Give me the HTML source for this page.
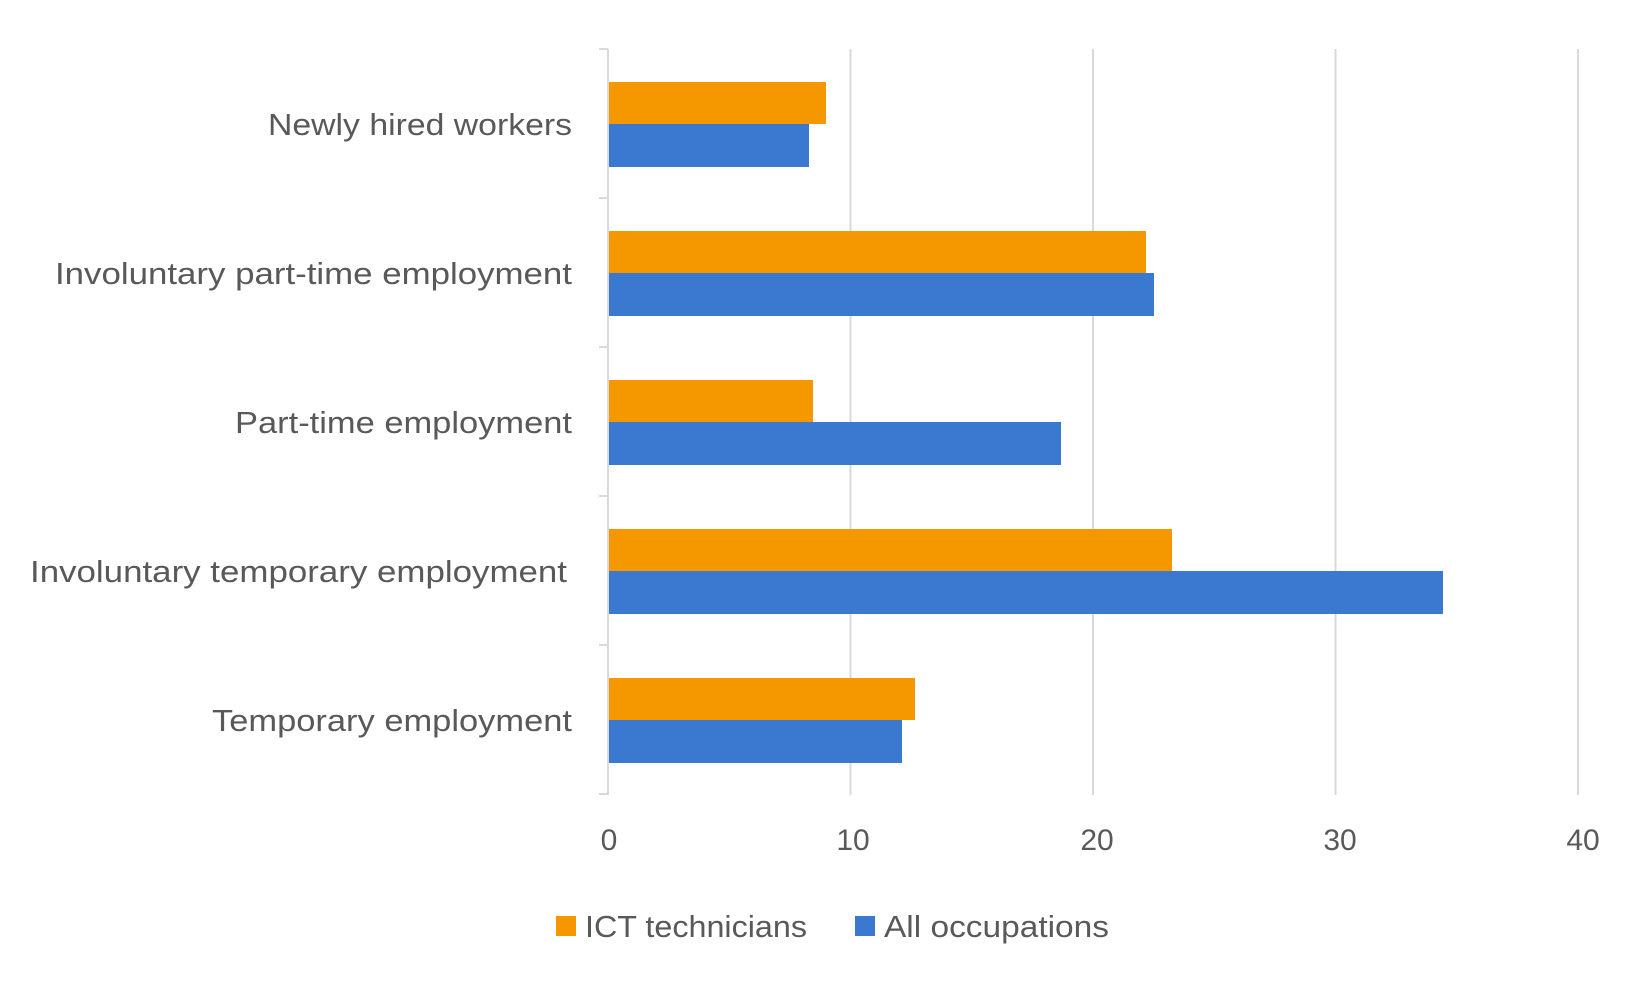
<!DOCTYPE html>
<html><head><meta charset="utf-8"><style>
html,body{margin:0;padding:0;background:#fff;}
svg text{font-family:"Liberation Sans",sans-serif;fill:#595959;}
</style></head><body>
<svg width="1650" height="990" xmlns="http://www.w3.org/2000/svg">
<g stroke="#d9d9d9" stroke-width="2">
<line x1="850.5" y1="49" x2="850.5" y2="795"/>
<line x1="1093" y1="49" x2="1093" y2="795"/>
<line x1="1335.5" y1="49" x2="1335.5" y2="795"/>
<line x1="1578" y1="49" x2="1578" y2="795"/>
<line x1="608" y1="49" x2="608" y2="795"/>
<line x1="599" y1="49" x2="608" y2="49"/>
<line x1="599" y1="198" x2="608" y2="198"/>
<line x1="599" y1="347" x2="608" y2="347"/>
<line x1="599" y1="496" x2="608" y2="496"/>
<line x1="599" y1="645" x2="608" y2="645"/>
<line x1="599" y1="794" x2="608" y2="794"/>
</g>
<g>
<rect x="609" y="82" width="217" height="42" fill="#f59800"/>
<rect x="609" y="124" width="200" height="43" fill="#3b78cf"/>
<rect x="609" y="231" width="537" height="42" fill="#f59800"/>
<rect x="609" y="273" width="545" height="43" fill="#3b78cf"/>
<rect x="609" y="380" width="204" height="42" fill="#f59800"/>
<rect x="609" y="422" width="452" height="43" fill="#3b78cf"/>
<rect x="609" y="529" width="563" height="42" fill="#f59800"/>
<rect x="609" y="571" width="834" height="43" fill="#3b78cf"/>
<rect x="609" y="678" width="306" height="42" fill="#f59800"/>
<rect x="609" y="720" width="293" height="43" fill="#3b78cf"/>
</g>
<g font-size="31">
<text x="268" y="135" textLength="304" lengthAdjust="spacingAndGlyphs">Newly hired workers</text>
<text x="55" y="284" textLength="517" lengthAdjust="spacingAndGlyphs">Involuntary part-time employment</text>
<text x="235" y="433" textLength="337" lengthAdjust="spacingAndGlyphs">Part-time employment</text>
<text x="30" y="582" textLength="537" lengthAdjust="spacingAndGlyphs">Involuntary temporary employment</text>
<text x="212" y="731" textLength="360" lengthAdjust="spacingAndGlyphs">Temporary employment</text>
</g>
<g font-size="30" text-anchor="middle">
<text x="609" y="850">0</text>
<text x="853" y="850">10</text>
<text x="1097" y="850">20</text>
<text x="1340" y="850">30</text>
<text x="1583" y="850">40</text>
</g>
<rect x="556" y="916" width="20" height="20" fill="#f59800"/>
<text x="585" y="937" font-size="31" textLength="222" lengthAdjust="spacingAndGlyphs">ICT technicians</text>
<rect x="855" y="916" width="20" height="20" fill="#3b78cf"/>
<text x="884" y="937" font-size="31" textLength="225" lengthAdjust="spacingAndGlyphs">All occupations</text>
</svg>
</body></html>
